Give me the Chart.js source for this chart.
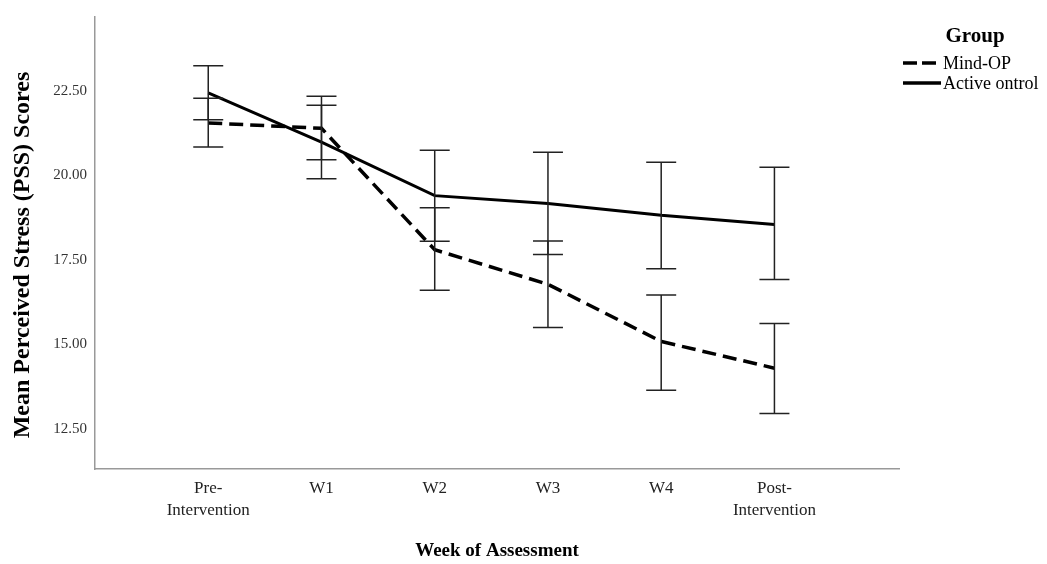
<!DOCTYPE html>
<html>
<head>
<meta charset="utf-8">
<script src="https://cdn.jsdelivr.net/npm/chart.js@4"></script>
<style>
  html, body { margin: 0; padding: 0; background: #fff; }
  #wrap { width: 1047px; height: 564px; position: relative; }
</style>
</head>
<body>
<div id="wrap"><canvas id="chart"></canvas></div>
<script>
// Categories (weeks of assessment)
const categories = [['Pre-', 'Intervention'], 'W1', 'W2', 'W3', 'W4', ['Post-', 'Intervention']];
const yTicks = [12.5, 15, 17.5, 20, 22.5];

// Mind-OP group: means and error bar ends
const mindMean  = [21.55, 21.39, 17.80, 16.78, 15.09, 14.30];
const mindUpper = [22.28, 22.34, 19.04, 18.06, 16.46, 15.62];
const mindLower = [20.84, 20.46, 16.60, 15.50, 13.65, 12.96];

// Active control group
const activeMean  = [22.44, 20.98, 19.40, 19.17, 18.82, 18.55];
const activeUpper = [23.24, 22.07, 20.74, 20.68, 20.39, 20.24];
const activeLower = [21.64, 19.90, 18.05, 17.66, 17.24, 16.92];

const serif = "'Liberation Serif', 'DejaVu Serif', serif";

function toPoints(arr) {
    return arr.map((v, i) => ({ x: i + 1, y: v }));
}

// Error bars drawn from the datasets' own scales
const errorBars = {
    id: 'errorBars',
    afterDatasetsDraw(chart) {
        const ctx = chart.ctx;
        const xs = chart.scales.x;
        const ys = chart.scales.y;
        const sets = [[mindUpper, mindLower], [activeUpper, activeLower]];
        ctx.save();
        ctx.strokeStyle = '#222';
        ctx.lineWidth = 1.5;
        sets.forEach(([up, lo]) => {
            up.forEach((u, i) => {
                const px = xs.getPixelForValue(i + 1);
                const pu = ys.getPixelForValue(u);
                const pl = ys.getPixelForValue(lo[i]);
                ctx.beginPath();
                ctx.moveTo(px, pu); ctx.lineTo(px, pl);
                ctx.moveTo(px - 15, pu); ctx.lineTo(px + 15, pu);
                ctx.moveTo(px - 15, pl); ctx.lineTo(px + 15, pl);
                ctx.stroke();
            });
        });
        ctx.restore();
    }
};

// Legend block at the top right
const groupLegend = {
    id: 'groupLegend',
    afterDraw(chart) {
        const ctx = chart.ctx;
        ctx.save();
        ctx.fillStyle = '#000';
        ctx.font = 'bold 21px ' + serif;
        ctx.textAlign = 'center';
        ctx.textBaseline = 'middle';
        ctx.fillText('Group', 975, 37);

        const items = [
            { label: 'Mind-OP', dash: [14, 5], y: 63 },
            { label: 'Active ontrol', dash: [], y: 83 }
        ];
        ctx.font = '18px ' + serif;
        ctx.textAlign = 'left';
        items.forEach(it => {
            ctx.strokeStyle = '#000';
            ctx.lineWidth = 3.5;
            ctx.setLineDash(it.dash);
            ctx.beginPath();
            ctx.moveTo(903, it.y);
            ctx.lineTo(941, it.y);
            ctx.stroke();
            ctx.setLineDash([]);
            ctx.fillText(it.label, 943, it.y + 1);
        });
        ctx.restore();
    }
};

const ctx = document.getElementById('chart').getContext('2d');
new Chart(ctx, {
    type: 'line',
    data: {
        datasets: [{
            label: 'Mind-OP',
            data: toPoints(mindMean),
            borderColor: '#000',
            borderWidth: 3.5,
            borderDash: [14, 7],
            pointRadius: 0,
            fill: false,
            tension: 0
        }, {
            label: 'Active ontrol',
            data: toPoints(activeMean),
            borderColor: '#000',
            borderWidth: 3,
            pointRadius: 0,
            fill: false,
            tension: 0
        }]
    },
    plugins: [errorBars, groupLegend],
    options: {
        responsive: true,
        maintainAspectRatio: false,
        animation: false,
        layout: { padding: { left: 0, top: 15, right: 148, bottom: 0 } },
        plugins: {
            legend: { display: false },
            tooltip: { enabled: false }
        },
        scales: {
            x: {
                type: 'linear',
                min: 0,
                max: 7.1,
                grid: { display: false, drawTicks: false },
                border: { display: true, color: '#999', width: 1.5 },
                afterBuildTicks(scale) {
                    scale.ticks = categories.map((c, i) => ({ value: i + 1 }));
                },
                afterFit(scale) { scale.height = 95; },
                ticks: {
                    autoSkip: false,
                    maxRotation: 0,
                    padding: 8,
                    color: '#222',
                    font: { family: serif, size: 17, lineHeight: 1.3 },
                    callback: v => categories[v - 1]
                },
                title: {
                    display: true,
                    text: 'Week of Assessment',
                    color: '#000',
                    padding: { top: 0, bottom: 2 },
                    font: { family: serif, size: 19, weight: 'bold', lineHeight: 1.2 }
                }
            },
            y: {
                min: 11.32,
                max: 24.68,
                grid: { display: false, drawTicks: false },
                border: { display: true, color: '#999', width: 1.5 },
                afterBuildTicks(scale) {
                    scale.ticks = yTicks.map(v => ({ value: v }));
                },
                afterFit(scale) { scale.width = 95; },
                ticks: {
                    padding: 8,
                    color: '#333',
                    font: { family: serif, size: 15 },
                    callback: v => Number(v).toFixed(2)
                },
                title: {
                    display: true,
                    text: 'Mean Perceived Stress (PSS) Scores    ',
                    color: '#000',
                    padding: { top: 8, bottom: 0 },
                    font: { family: serif, size: 24, weight: 'bold', lineHeight: 1.2 }
                }
            }
        }
    }
});
</script>
</body>
</html>
